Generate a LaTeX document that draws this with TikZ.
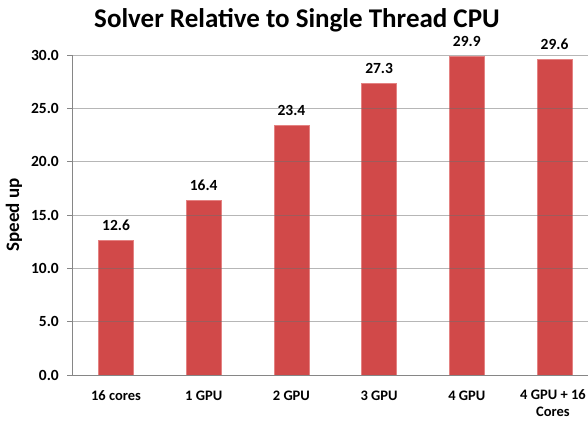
\documentclass[tikz,border=0pt]{standalone}
\usepackage{fontspec}
\setmainfont{Carlito}
\tikzset{
  gridline/.style={line width=0.9pt, draw=r110g110b110, draw opacity=0.5},
  axisline/.style={line width=0.9pt, draw=r134g134b134},
  speedbar/.style={fill=r209g73b73, draw=r228g130b130, line width=0.6pt},
  ticklabel/.style={anchor=east, inner sep=0pt, font=\fontsize{15.5}{17}\selectfont\bfseries},
  valuelabel/.style={anchor=base, inner sep=0pt, font=\fontsize{15.5}{17}\selectfont\bfseries},
  catlabel/.style={align=center, inner sep=0pt, font=\fontsize{14.5}{17}\selectfont\bfseries},
}
\begin{document}
\begin{tikzpicture}[x=1pt, y=1pt]
                        \useasboundingbox (0,0) rectangle (588,420);
                        \clip (0,0) rectangle (588,420);

                        % Changing color 209 73 73
                        \definecolor{r209g73b73}{RGB}{209,73,73}%
                        \definecolor{r228g130b130}{RGB}{228,130,130}%
                        \definecolor{r110g110b110}{RGB}{110,110,110}%
                        \definecolor{r134g134b134}{RGB}{134,134,134}%

                        % Filling bar 16 cores 12.6
                        \draw [speedbar] (98.5,45) rectangle (133.5,{45+12.6*10.6667});%

                        % Filling bar 1 GPU 16.4
                        \draw [speedbar] (186.2,45) rectangle (221.2,{45+16.4*10.6667});%

                        % Filling bar 2 GPU 23.4
                        \draw [speedbar] (273.9,45) rectangle (308.9,{45+23.4*10.6667});%

                        % Filling bar 3 GPU 27.3
                        \draw [speedbar] (361.6,45) rectangle (396.6,{45+27.3*10.6667});%

                        % Filling bar 4 GPU 29.9
                        \draw [speedbar] (449.3,45) rectangle (484.3,{45+29.9*10.6667});%

                        % Filling bar 4 GPU + 16 Cores 29.6
                        \draw [speedbar] (537,45) rectangle (572,{45+29.6*10.6667});%

                        % Drawing grid lines 5.0 to 30.0
                        \draw [gridline] (72,98.33) -- (588,98.33);%
                        \draw [gridline] (72,151.67) -- (588,151.67);%
                        \draw [gridline] (72,205) -- (588,205);%
                        \draw [gridline] (72,258.33) -- (588,258.33);%
                        \draw [gridline] (72,311.67) -- (588,311.67);%
                        \draw [gridline] (72,365) -- (588,365);%

                        % Drawing axes
                        \draw [axisline] (72,45) -- (72,365);%
                        \draw [axisline] (72,45) -- (588,45);%

                        % Drawing tick marks
                        \draw [axisline] (67,45) -- (72,45);%
                        \draw [axisline] (67,98.33) -- (72,98.33);%
                        \draw [axisline] (67,151.67) -- (72,151.67);%
                        \draw [axisline] (67,205) -- (72,205);%
                        \draw [axisline] (67,258.33) -- (72,258.33);%
                        \draw [axisline] (67,311.67) -- (72,311.67);%
                        \draw [axisline] (67,365) -- (72,365);%

                        % Marking tick labels
                        \node [ticklabel] (tick0) at (59,45) {0.0};%
                        \node [ticklabel] (tick5) at (59,98.33) {5.0};%
                        \node [ticklabel] (tick10) at (59,151.67) {10.0};%
                        \node [ticklabel] (tick15) at (59,205) {15.0};%
                        \node [ticklabel] (tick20) at (59,258.33) {20.0};%
                        \node [ticklabel] (tick25) at (59,311.67) {25.0};%
                        \node [ticklabel] (tick30) at (59,365) {30.0};%

                        % Marking bar values
                        \node [valuelabel] (val16cores) at (116,{55+12.6*10.6667}) {12.6};%
                        \node [valuelabel] (val1gpu) at (203.7,{55+16.4*10.6667}) {16.4};%
                        \node [valuelabel] (val2gpu) at (291.4,{55+23.4*10.6667}) {23.4};%
                        \node [valuelabel] (val3gpu) at (379.1,{55+27.3*10.6667}) {27.3};%
                        \node [valuelabel] (val4gpu) at (466.8,{55+29.9*10.6667}) {29.9};%
                        \node [valuelabel] (val4gpucores) at (554.5,{55+29.6*10.6667}) {29.6};%

                        % Marking categories
                        \node [catlabel] (cat16cores) at (116,24) {16 cores};%
                        \node [catlabel] (cat1gpu) at (203.7,24) {1 GPU};%
                        \node [catlabel] (cat2gpu) at (291.4,24) {2 GPU};%
                        \node [catlabel] (cat3gpu) at (379.1,24) {3 GPU};%
                        \node [catlabel] (cat4gpu) at (466.8,24) {4 GPU};%
                        \node [catlabel, anchor=north] (cat4gpucores) at (553,31) {4 GPU + 16\\Cores};%

                        % Marking axis title and chart title
                        \node [rotate=90, inner sep=0pt, font=\fontsize{19}{21}\selectfont\bfseries] (speedup) at (14,205) {Speed up};%
                        \node [inner sep=0pt, font=\fontsize{27}{30}\selectfont\bfseries] (charttitle) at (297,400) {Solver Relative to Single Thread CPU};%
                    \end{tikzpicture}
\end{document}
